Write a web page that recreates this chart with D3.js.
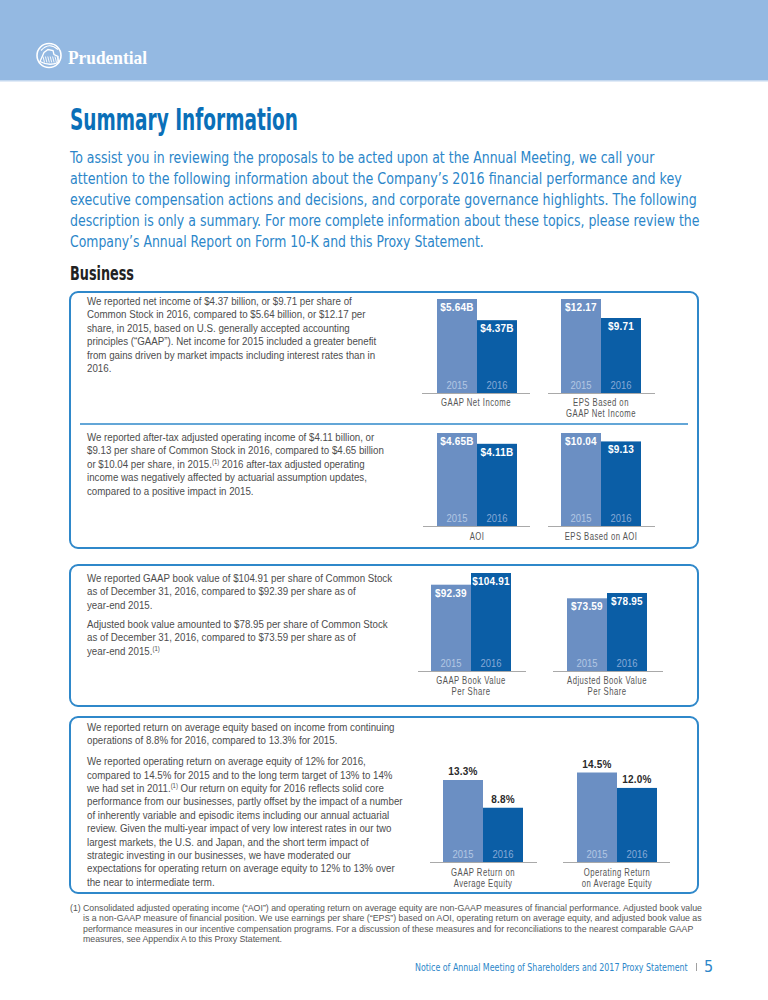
<!DOCTYPE html>
<html>
<head>
<meta charset="utf-8">
<script src="https://cdn.jsdelivr.net/npm/d3@7"></script>
<style>
  body { margin: 0; background: #fff; }
  svg { display: block; }
</style>
</head>
<body>
<svg id="page"></svg>
<script>
// chart values
const years = ['2015', '2016'];
const gaapNetIncome = [5.64, 4.37];
const epsGaapNetIncome = [12.17, 9.71];
const aoi = [4.65, 4.11];
const epsAoi = [10.04, 9.13];
const gaapBookValue = [92.39, 104.91];
const adjustedBookValue = [73.59, 78.95];
const gaapRoe = [13.3, 8.8];
const operatingRoe = [14.5, 12.0];

const chartTitles = [
  ['GAAP Net Income'],
  ['EPS Based on', 'GAAP Net Income'],
  ['AOI'],
  ['EPS Based on AOI'],
  ['GAAP Book Value', 'Per Share'],
  ['Adjusted Book Value', 'Per Share'],
  ['GAAP Return on', 'Average Equity'],
  ['Operating Return', 'on Average Equity']
];

// page text
const introLines = [
  'To assist you in reviewing the proposals to be acted upon at the Annual Meeting, we call your',
  'attention to the following information about the Company\u2019s 2016 financial performance and key',
  'executive compensation actions and decisions, and corporate governance highlights. The following',
  'description is only a summary. For more complete information about these topics, please review the',
  'Company\u2019s Annual Report on Form 10-K and this Proxy Statement.'
];
const netIncomeText = [[
  'We reported net income of $4.37 billion, or $9.71 per share of',
  'Common Stock in 2016, compared to $5.64 billion, or $12.17 per',
  'share, in 2015, based on U.S. generally accepted accounting',
  'principles (\u201cGAAP\u201d). Net income for 2015 included a greater benefit',
  'from gains driven by market impacts including interest rates than in',
  '2016.'
]];
const aoiText = [[
  'We reported after-tax adjusted operating income of $4.11 billion, or',
  '$9.13 per share of Common Stock in 2016, compared to $4.65 billion',
  'or $10.04 per share, in 2015.{1} 2016 after-tax adjusted operating',
  'income was negatively affected by actuarial assumption updates,',
  'compared to a positive impact in 2015.'
]];
const bookValueText = [[
  'We reported GAAP book value of $104.91 per share of Common Stock',
  'as of December 31, 2016, compared to $92.39 per share as of',
  'year-end 2015.'
], [
  'Adjusted book value amounted to $78.95 per share of Common Stock',
  'as of December 31, 2016, compared to $73.59 per share as of',
  'year-end 2015.{1}'
]];
const roeText = [[
  'We reported return on average equity based on income from continuing',
  'operations of 8.8% for 2016, compared to 13.3% for 2015.'
], [
  'We reported operating return on average equity of 12% for 2016,',
  'compared to 14.5% for 2015 and to the long term target of 13% to 14%',
  'we had set in 2011.{1} Our return on equity for 2016 reflects solid core',
  'performance from our businesses, partly offset by the impact of a number',
  'of inherently variable and episodic items including our annual actuarial',
  'review. Given the multi-year impact of very low interest rates in our two',
  'largest markets, the U.S. and Japan, and the short term impact of',
  'strategic investing in our businesses, we have moderated our',
  'expectations for operating return on average equity to 12% to 13% over',
  'the near to intermediate term.'
]];
const footnoteLines = [
  'Consolidated adjusted operating income (\u201cAOI\u201d) and operating return on average equity are non-GAAP measures of financial performance. Adjusted book value',
  'is a non-GAAP measure of financial position. We use earnings per share (\u201cEPS\u201d) based on AOI, operating return on average equity, and adjusted book value as',
  'performance measures in our incentive compensation programs. For a discussion of these measures and for reconciliations to the nearest comparable GAAP',
  'measures, see Appendix A to this Proxy Statement.'
];

const CONDENSED = "'DejaVu Sans Condensed', 'Liberation Sans Narrow', sans-serif";
const SANS = "'Liberation Sans', Arial, sans-serif";
const BLUE = '#0a6fb8';
const LIGHT_BLUE = '#2b86c9';
const BOX_BLUE = '#2f88ca';
const BAR_COLORS = ['#6b8fc3', '#0b5ea6'];
const YEAR_COLORS = ['#b3c7e4', '#86a9d6'];

const money = d3.format('.2f');
const fmtBillions = v => `$${money(v)}B`;
const fmtDollars = v => `$${money(v)}`;
const fmtPct = v => `${d3.format('.1f')(v)}%`;

const width = 768, height = 1000;
const svg = d3.select('#page').attr('width', width).attr('height', height);

// natural width of a string, used to squeeze the fonts to the narrow face of the original
function measure(str, size, opts = {}) {
  const t = svg.append('text').attr('font-family', opts.family || SANS).attr('font-size', size)
    .attr('font-weight', opts.weight || 'normal').attr('letter-spacing', opts.spacing || 0).text(str);
  const w = t.node().getComputedTextLength();
  t.remove();
  return w;
}
const BODY_SIZE = 11.5;
const kBody = 316 / measure('performance from our businesses, partly offset by the impact of a number', BODY_SIZE);
const kFoot = 619 / measure(footnoteLines[0], 9.8);
const kTitle = 70 / measure('GAAP Net Income', 10, { spacing: 0.6 });

// header band
svg.append('rect').attr('x', 0).attr('y', 0).attr('width', width).attr('height', 80).attr('fill', '#94b9e2');
svg.append('rect').attr('x', 0).attr('y', 80).attr('width', width).attr('height', 1.5).attr('fill', '#c4d8ef');

// logo
const logo = svg.append('g').attr('transform', 'translate(49,55.5)');
logo.append('circle').attr('r', 12).attr('fill', 'none').attr('stroke', '#fff').attr('stroke-width', 1.6);
logo.append('path')
  .attr('d', 'M-9,6 L-5,-3 L-1,-6 L4,-5 L5,-1 L9,1 L9,7 Q0,11 -9,6 Z')
  .attr('fill', 'none').attr('stroke', '#fff').attr('stroke-width', 1.3);
d3.range(-6, 9, 2.4).forEach(x => {
  logo.append('line').attr('x1', x).attr('x2', x + 1.5).attr('y1', 1).attr('y2', 7)
    .attr('stroke', '#fff').attr('stroke-width', 0.9);
});
logo.append('path').attr('d', 'M-8,-5 Q0,-14 9,-6').attr('fill', 'none').attr('stroke', '#fff').attr('stroke-width', 1.2);
svg.append('text').attr('x', 68).attr('y', 63.5)
  .attr('font-family', "'Liberation Serif', 'Times New Roman', serif").attr('font-weight', 'bold')
  .attr('font-size', 19).attr('fill', '#fff')
  .attr('textLength', 79).attr('lengthAdjust', 'spacingAndGlyphs')
  .text('Prudential');

// title + intro
svg.append('text').attr('x', 70).attr('y', 129.5)
  .attr('font-family', CONDENSED).attr('font-weight', 'bold').attr('font-size', 30).attr('fill', BLUE)
  .attr('textLength', 228).attr('lengthAdjust', 'spacingAndGlyphs')
  .text('Summary Information');

const introWidths = [585, 612, 627, 630, 414];
introLines.forEach((line, i) => {
  const k = introWidths[i] / measure(line, 16, { family: CONDENSED });
  svg.append('text')
    .attr('transform', `translate(70,0) scale(${k},1)`)
    .attr('x', 0)
    .attr('y', 163 + i * 21)
    .attr('font-family', CONDENSED).attr('font-size', 16).attr('fill', LIGHT_BLUE)
    .text(line);
});

svg.append('text').attr('x', 70).attr('y', 280)
  .attr('font-family', CONDENSED).attr('font-weight', 'bold').attr('font-size', 20).attr('fill', '#222')
  .attr('textLength', 64).attr('lengthAdjust', 'spacingAndGlyphs')
  .text('Business');

// boxes
const boxes = svg.append('g').attr('fill', 'none').attr('stroke', BOX_BLUE).attr('stroke-width', 2);
[[70, 292, 698, 548], [70, 565, 698, 706], [70, 717, 698, 893]].forEach(([x0, y0, x1, y1]) => {
  boxes.append('rect').attr('x', x0).attr('y', y0).attr('width', x1 - x0).attr('height', y1 - y0)
    .attr('rx', 8).attr('ry', 8);
});
svg.append('line').attr('x1', 80).attr('x2', 688).attr('y1', 424).attr('y2', 424)
  .attr('stroke', BOX_BLUE).attr('stroke-width', 1.6);

// paragraph text with (1) superscripts
function drawParagraphs(paragraphs, x, y0, step, gap) {
  const g = svg.append('g')
    .attr('transform', `translate(${x},0) scale(${kBody},1)`)
    .attr('font-family', SANS).attr('font-size', BODY_SIZE).attr('fill', '#4d4d4d');
  let y = y0;
  paragraphs.forEach(lines => {
    lines.forEach(line => {
      const t = g.append('text').attr('x', 0).attr('y', y);
      line.split('{1}').forEach((part, i) => {
        if (i > 0) {
          t.append('tspan').attr('dy', -4).attr('font-size', 7).text('(1)');
          t.append('tspan').attr('dy', 4).text(part);
        } else {
          t.append('tspan').text(part);
        }
      });
      y += step;
    });
    y += gap;
  });
}

drawParagraphs(netIncomeText, 87, 305, 13.4, 0);
drawParagraphs(aoiText, 87, 441, 13.4, 0);
drawParagraphs(bookValueText, 87, 582, 13.4, 5.8);
drawParagraphs(roeText, 87, 731, 13.4, 7.4);

// bar charts
const charts = [
  { values: gaapNetIncome, fmt: fmtBillions, title: chartTitles[0], x0: 437, base: 393, h: 94, axis: [422, 530], tx: 476, ty: 406, inside: true },
  { values: epsGaapNetIncome, fmt: fmtDollars, title: chartTitles[1], x0: 561, base: 393, h: 94, axis: [548, 655], tx: 601, ty: 406, inside: true },
  { values: aoi, fmt: fmtBillions, title: chartTitles[2], x0: 437, base: 526, h: 93, axis: [423, 530], tx: 477, ty: 540, inside: true },
  { values: epsAoi, fmt: fmtDollars, title: chartTitles[3], x0: 561, base: 526, h: 93, axis: [548, 655], tx: 601, ty: 540, inside: true },
  { values: gaapBookValue, fmt: fmtDollars, title: chartTitles[4], x0: 431, base: 671, h: 98, axis: [418, 526], tx: 471, ty: 684, inside: true },
  { values: adjustedBookValue, fmt: fmtDollars, title: chartTitles[5], x0: 567, base: 671, h: 78, axis: [553, 663], tx: 607, ty: 684, inside: true },
  { values: gaapRoe, fmt: fmtPct, title: chartTitles[6], x0: 443, base: 862, h: 82, axis: [430, 537], tx: 483, ty: 876, inside: false },
  { values: operatingRoe, fmt: fmtPct, title: chartTitles[7], x0: 577, base: 862, h: 89.5, axis: [563, 670], tx: 617, ty: 876, inside: false }
];

charts.forEach(c => {
  const g = svg.append('g');
  const x = d3.scaleBand().domain(years).range([c.x0, c.x0 + 80]).padding(0);
  const y = d3.scaleLinear().domain([0, d3.max(c.values)]).range([c.base, c.base - c.h]);
  const rows = years.map((yr, i) => ({ year: yr, value: c.values[i], i }));

  g.selectAll('.bar')
    .data(rows)
    .join('rect')
    .attr('class', 'bar')
    .attr('x', d => x(d.year))
    .attr('y', d => y(d.value))
    .attr('width', x.bandwidth())
    .attr('height', d => y(0) - y(d.value))
    .attr('fill', d => BAR_COLORS[d.i]);

  g.append('line')
    .attr('x1', c.axis[0]).attr('x2', c.axis[1])
    .attr('y1', y(0) + 0.5).attr('y2', y(0) + 0.5)
    .attr('stroke', '#a9a9a9').attr('stroke-width', 1);

  g.selectAll('.year')
    .data(rows)
    .join('text')
    .attr('class', 'year')
    .attr('x', d => x(d.year) + x.bandwidth() / 2)
    .attr('y', y(0) - 4)
    .attr('text-anchor', 'middle')
    .attr('font-family', SANS).attr('font-size', 11.5)
    .attr('textLength', 21).attr('lengthAdjust', 'spacingAndGlyphs')
    .attr('fill', d => YEAR_COLORS[d.i])
    .text(d => d.year);

  g.selectAll('.value')
    .data(rows)
    .join('text')
    .attr('class', 'value')
    .attr('x', d => x(d.year) + x.bandwidth() / 2)
    .attr('y', d => c.inside ? y(d.value) + 12 : y(d.value) - 5)
    .attr('text-anchor', 'middle')
    .attr('font-family', SANS).attr('font-weight', 'bold').attr('font-size', 10)
    .attr('letter-spacing', 0.2)
    .attr('fill', c.inside ? '#fff' : '#2a2a2a')
    .text(d => c.fmt(d.value));

  g.append('g')
    .attr('transform', `translate(${c.tx},0) scale(${kTitle},1)`)
    .selectAll('text')
    .data(c.title)
    .join('text')
    .attr('x', 0)
    .attr('y', (d, i) => c.ty + i * 11)
    .attr('text-anchor', 'middle')
    .attr('font-family', SANS).attr('font-size', 10)
    .attr('letter-spacing', 0.6)
    .attr('fill', '#555')
    .text(d => d);
});

// footnote
const foot = svg.append('g').attr('font-family', SANS).attr('font-size', 9.8).attr('fill', '#555');
foot.append('text').attr('transform', `translate(70,0) scale(${kFoot},1)`).attr('y', 911).text('(1)');
foot.append('g')
  .attr('transform', `translate(83,0) scale(${kFoot},1)`)
  .selectAll('text')
  .data(footnoteLines)
  .join('text')
  .attr('x', 0)
  .attr('y', (d, i) => 911 + i * 10.5)
  .text(d => d);

// page footer
const footerText = 'Notice of Annual Meeting of Shareholders and 2017 Proxy Statement';
const kFooter = 273 / measure(footerText, 10.5, { family: CONDENSED });
svg.append('text')
  .attr('transform', `translate(415,0) scale(${kFooter},1)`)
  .attr('x', 0).attr('y', 971)
  .attr('font-family', CONDENSED).attr('font-size', 10.5).attr('fill', LIGHT_BLUE)
  .text(footerText);
svg.append('line').attr('x1', 696.5).attr('x2', 696.5).attr('y1', 963).attr('y2', 971)
  .attr('stroke', '#888').attr('stroke-width', 0.8);
svg.append('text').attr('x', 704).attr('y', 972)
  .attr('font-family', CONDENSED).attr('font-size', 16).attr('fill', LIGHT_BLUE)
  .text('5');
</script>
</body>
</html>
